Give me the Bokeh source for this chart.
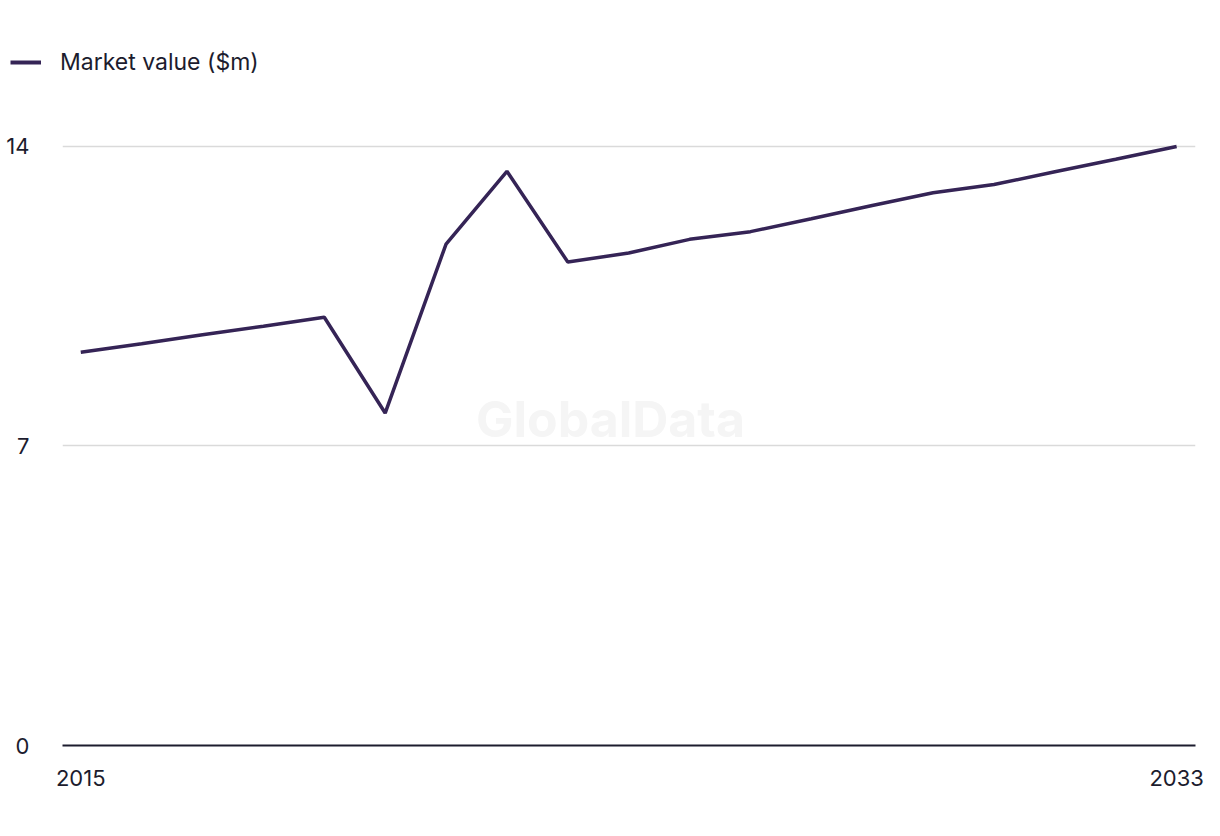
from bokeh.plotting import figure
from bokeh.layouts import column
from bokeh.models import Range1d, FixedTicker, Legend, LegendItem, Label, ColumnDataSource
from bokeh.embed import file_html
from bokeh.resources import INLINE

# ---- data ----
years = [2015, 2016, 2017, 2018, 2019, 2020, 2021, 2022, 2023, 2024,
         2025, 2026, 2027, 2028, 2029, 2030, 2031, 2032, 2033]
market_value = [9.19, 9.39, 9.60, 9.80, 10.01, 7.77, 11.72, 13.42, 11.30, 11.51,
                11.83, 12.01, 12.31, 12.62, 12.92, 13.11, 13.41, 13.70, 14.00]
series_name = "Market value ($m)"
y_ticks = [0, 7, 14]
x_ticks = [2015, 2033]
watermark = "GlobalData"

FONT = "Inter"
TEXT = "#1c1c2e"
LINE = "#352456"
W = 1204

src = ColumnDataSource(dict(x=years, y=market_value))

# ---- legend strip (separate small figure on top) ----
top = figure(width=W, height=100, output_backend="svg", toolbar_location=None,
             x_range=Range1d(2014.7, 2033.31), y_range=Range1d(100, 101),
             x_axis_type=None, y_axis_type=None)
top.min_border_left = 0
top.min_border_right = 0
top.min_border_top = 0
top.min_border_bottom = 0
top.frame_align = False
top.outline_line_color = None
top.xgrid.grid_line_color = None
top.ygrid.grid_line_color = None
lr = top.line("x", "y", source=src, line_color=LINE, line_width=4)
legend = Legend(items=[LegendItem(label=series_name, renderers=[lr])],
                location=(10, 24), orientation="horizontal",
                padding=0, margin=0, spacing=0,
                glyph_width=31, glyph_height=24, label_height=24,
                label_standoff=19, label_text_font=FONT,
                label_text_font_size="23px", label_text_color=TEXT,
                border_line_color=None, background_fill_alpha=0)
top.add_layout(legend, "center")

# ---- main chart ----
p = figure(width=W, height=720, output_backend="svg", toolbar_location=None,
           x_range=Range1d(2014.7, 2033.31), y_range=Range1d(0, 15.075))
p.min_border_left = 62
p.min_border_right = 9
p.min_border_top = 0
p.min_border_bottom = 75
p.frame_align = False
p.outline_line_color = None
p.background_fill_color = "white"
p.border_fill_color = "white"

wm = Label(x=2023.7, y=7.64, text=watermark, text_font=FONT, text_font_style="bold",
           text_font_size="50px", text_color="#f5f5f5", text_align="center",
           text_baseline="middle")
p.add_layout(wm)

p.line("x", "y", source=src, line_color=LINE, line_width=3.5)

p.xaxis.ticker = FixedTicker(ticks=x_ticks)
p.yaxis.ticker = FixedTicker(ticks=y_ticks)
p.xaxis.axis_line_color = TEXT
p.xaxis.axis_line_width = 2
p.xaxis.major_tick_line_color = None
p.xaxis.minor_tick_line_color = None
p.xaxis.major_label_standoff = 18
p.yaxis.axis_line_color = None
p.yaxis.major_tick_line_color = None
p.yaxis.minor_tick_line_color = None
p.yaxis.major_label_standoff = 27
for ax in (p.xaxis, p.yaxis):
    ax.major_label_text_font = FONT
    ax.major_label_text_font_size = "22px"
    ax.major_label_text_color = TEXT

p.xgrid.grid_line_color = None
p.ygrid.ticker = FixedTicker(ticks=y_ticks)
p.ygrid.grid_line_color = "#dadada"
p.ygrid.grid_line_width = 1.5

layout = column(top, p, spacing=0)
open("out.html", "w").write(file_html(layout, INLINE))
